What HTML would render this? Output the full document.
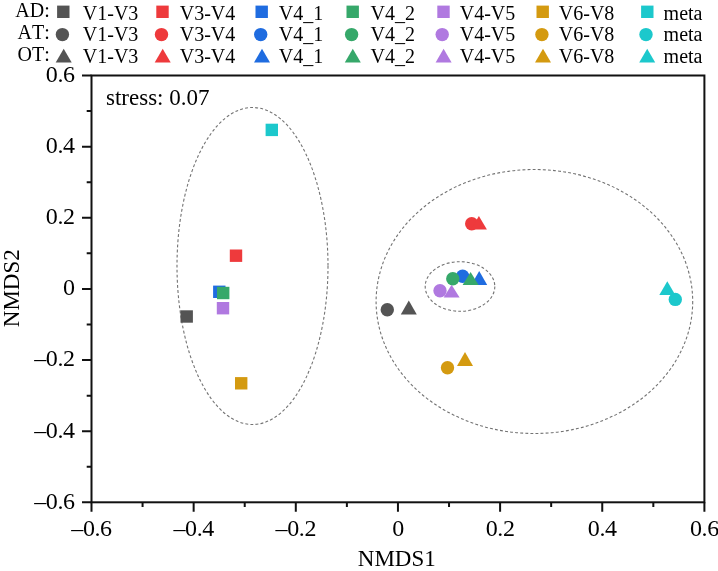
<!DOCTYPE html>
<html><head><meta charset="utf-8"><title>NMDS</title>
<style>
html,body{margin:0;padding:0;background:#fff;}
body{width:718px;height:571px;overflow:hidden;font-family:"Liberation Serif",serif;}
svg{display:block;will-change:transform;} text{font-kerning:none;}
</style></head>
<body>
<svg width="718" height="571" viewBox="0 0 718 571">
<rect width="718" height="571" fill="#fff"/>
<g font-family="&quot;Liberation Serif&quot;, serif" font-size="20" fill="#000">
<text x="49.8" y="16.8" text-anchor="end">AD:</text>
<text x="49.8" y="39.1" text-anchor="end">AT:</text>
<text x="49.8" y="61.0" text-anchor="end">OT:</text>
<rect x="57.10" y="5.60" width="12.40" height="12.40" fill="#545454"/>
<circle cx="62.40" cy="34.60" r="6.70" fill="#545454"/>
<polygon points="63.70,48.70 71.70,62.40 55.70,62.40" fill="#545454"/>
<text x="82.8" y="19.5">V1-V3</text>
<text x="82.8" y="41.2">V1-V3</text>
<text x="82.8" y="63.0">V1-V3</text>
<rect x="156.30" y="5.60" width="12.40" height="12.40" fill="#EE3A3C"/>
<circle cx="161.50" cy="34.60" r="6.70" fill="#EE3A3C"/>
<polygon points="162.70,48.70 170.70,62.40 154.70,62.40" fill="#EE3A3C"/>
<text x="179.7" y="19.5">V3-V4</text>
<text x="179.7" y="41.2">V3-V4</text>
<text x="179.7" y="63.0">V3-V4</text>
<rect x="255.50" y="5.60" width="12.40" height="12.40" fill="#1F6CE0"/>
<circle cx="260.70" cy="34.60" r="6.70" fill="#1F6CE0"/>
<polygon points="262.00,48.70 270.00,62.40 254.00,62.40" fill="#1F6CE0"/>
<text x="278.8" y="19.5">V4_1</text>
<text x="278.8" y="41.2">V4_1</text>
<text x="278.8" y="63.0">V4_1</text>
<rect x="346.50" y="5.60" width="12.40" height="12.40" fill="#36A86A"/>
<circle cx="351.60" cy="34.60" r="6.70" fill="#36A86A"/>
<polygon points="352.80,48.70 360.80,62.40 344.80,62.40" fill="#36A86A"/>
<text x="370.6" y="19.5">V4_2</text>
<text x="370.6" y="41.2">V4_2</text>
<text x="370.6" y="63.0">V4_2</text>
<rect x="437.30" y="5.60" width="12.40" height="12.40" fill="#B079E0"/>
<circle cx="442.20" cy="34.60" r="6.70" fill="#B079E0"/>
<polygon points="443.60,48.70 451.60,62.40 435.60,62.40" fill="#B079E0"/>
<text x="459.7" y="19.5">V4-V5</text>
<text x="459.7" y="41.2">V4-V5</text>
<text x="459.7" y="63.0">V4-V5</text>
<rect x="536.50" y="5.60" width="12.40" height="12.40" fill="#D49A10"/>
<circle cx="541.90" cy="34.60" r="6.70" fill="#D49A10"/>
<polygon points="543.00,48.70 551.00,62.40 535.00,62.40" fill="#D49A10"/>
<text x="558.8" y="19.5">V6-V8</text>
<text x="558.8" y="41.2">V6-V8</text>
<text x="558.8" y="63.0">V6-V8</text>
<rect x="641.10" y="5.60" width="12.40" height="12.40" fill="#1CC8CC"/>
<circle cx="646.00" cy="34.60" r="6.70" fill="#1CC8CC"/>
<polygon points="647.20,48.70 655.20,62.40 639.20,62.40" fill="#1CC8CC"/>
<text x="663.6" y="19.5">meta</text>
<text x="663.6" y="41.2">meta</text>
<text x="663.6" y="63.0">meta</text>
</g>
<g fill="none" stroke="#737373" stroke-width="1.1" stroke-dasharray="2.9 2.2">
<ellipse cx="252.5" cy="266" rx="75.5" ry="158.5"/>
<ellipse cx="534.4" cy="301.5" rx="158.3" ry="132"/>
<ellipse cx="460" cy="286.5" rx="34.8" ry="24.8"/>
</g>
<rect x="180.50" y="310.30" width="12.40" height="12.40" fill="#545454"/>
<rect x="229.80" y="249.50" width="12.40" height="12.40" fill="#EE3A3C"/>
<rect x="213.10" y="285.60" width="12.40" height="12.40" fill="#1F6CE0"/>
<rect x="217.00" y="286.80" width="12.40" height="12.40" fill="#36A86A"/>
<rect x="216.80" y="302.00" width="12.40" height="12.40" fill="#B079E0"/>
<rect x="235.00" y="377.10" width="12.40" height="12.40" fill="#D49A10"/>
<rect x="265.60" y="123.70" width="12.40" height="12.40" fill="#1CC8CC"/>
<circle cx="387.30" cy="309.70" r="6.70" fill="#545454"/>
<circle cx="471.70" cy="223.70" r="6.70" fill="#EE3A3C"/>
<circle cx="462.60" cy="276.30" r="6.70" fill="#1F6CE0"/>
<circle cx="452.80" cy="278.80" r="6.70" fill="#36A86A"/>
<circle cx="440.00" cy="290.80" r="6.70" fill="#B079E0"/>
<circle cx="447.50" cy="367.80" r="6.70" fill="#D49A10"/>
<circle cx="675.30" cy="299.40" r="6.70" fill="#1CC8CC"/>
<polygon points="408.80,300.40 416.80,314.50 400.80,314.50" fill="#545454"/>
<polygon points="478.90,216.00 486.90,229.60 470.90,229.60" fill="#EE3A3C"/>
<polygon points="479.20,271.10 487.20,284.90 471.20,284.90" fill="#1F6CE0"/>
<polygon points="470.60,272.00 478.60,285.00 462.60,285.00" fill="#36A86A"/>
<polygon points="451.60,284.70 459.60,297.40 443.60,297.40" fill="#B079E0"/>
<polygon points="465.00,352.10 473.00,366.00 457.00,366.00" fill="#D49A10"/>
<polygon points="667.30,281.30 675.30,295.00 659.30,295.00" fill="#1CC8CC"/>
<rect x="91.5" y="75.5" width="612.9" height="426.8" fill="none" stroke="#111" stroke-width="2"/>
<path d="M82.0,502.34H91.5 M91.50,502.3V511.8 M86.7,466.77H91.5 M142.57,502.3V507.1 M82.0,431.20H91.5 M193.65,502.3V511.8 M86.7,395.63H91.5 M244.73,502.3V507.1 M82.0,360.06H91.5 M295.80,502.3V511.8 M86.7,324.49H91.5 M346.88,502.3V507.1 M82.0,288.92H91.5 M397.95,502.3V511.8 M86.7,253.35H91.5 M449.03,502.3V507.1 M82.0,217.78H91.5 M500.10,502.3V511.8 M86.7,182.21H91.5 M551.17,502.3V507.1 M82.0,146.64H91.5 M602.25,502.3V511.8 M86.7,111.07H91.5 M653.33,502.3V507.1 M82.0,75.50H91.5 M704.40,502.3V511.8" stroke="#111" stroke-width="2" fill="none"/>
<g font-family="&quot;Liberation Serif&quot;, serif" font-size="23" fill="#000">
<g font-size="24" letter-spacing="-0.4">
<text x="74.6" y="508.64" text-anchor="end">–0.6</text>
<text x="91.50" y="535.8" text-anchor="middle">–0.6</text>
<text x="74.6" y="437.50" text-anchor="end">–0.4</text>
<text x="193.65" y="535.8" text-anchor="middle">–0.4</text>
<text x="74.6" y="366.36" text-anchor="end">–0.2</text>
<text x="295.80" y="535.8" text-anchor="middle">–0.2</text>
<text x="74.6" y="295.22" text-anchor="end">0</text>
<text x="397.95" y="535.8" text-anchor="middle">0</text>
<text x="74.6" y="224.08" text-anchor="end">0.2</text>
<text x="500.10" y="535.8" text-anchor="middle">0.2</text>
<text x="74.6" y="152.94" text-anchor="end">0.4</text>
<text x="602.25" y="535.8" text-anchor="middle">0.4</text>
<text x="74.6" y="81.80" text-anchor="end">0.6</text>
<text x="704.40" y="535.8" text-anchor="middle">0.6</text>
</g>
<text x="396.8" y="565.8" text-anchor="middle">NMDS1</text>
<text transform="translate(19.4,288.25) rotate(-90)" text-anchor="middle">NMDS2</text>
<text x="106" y="104.5">stress: 0.07</text>
</g>
</svg>
</body></html>
